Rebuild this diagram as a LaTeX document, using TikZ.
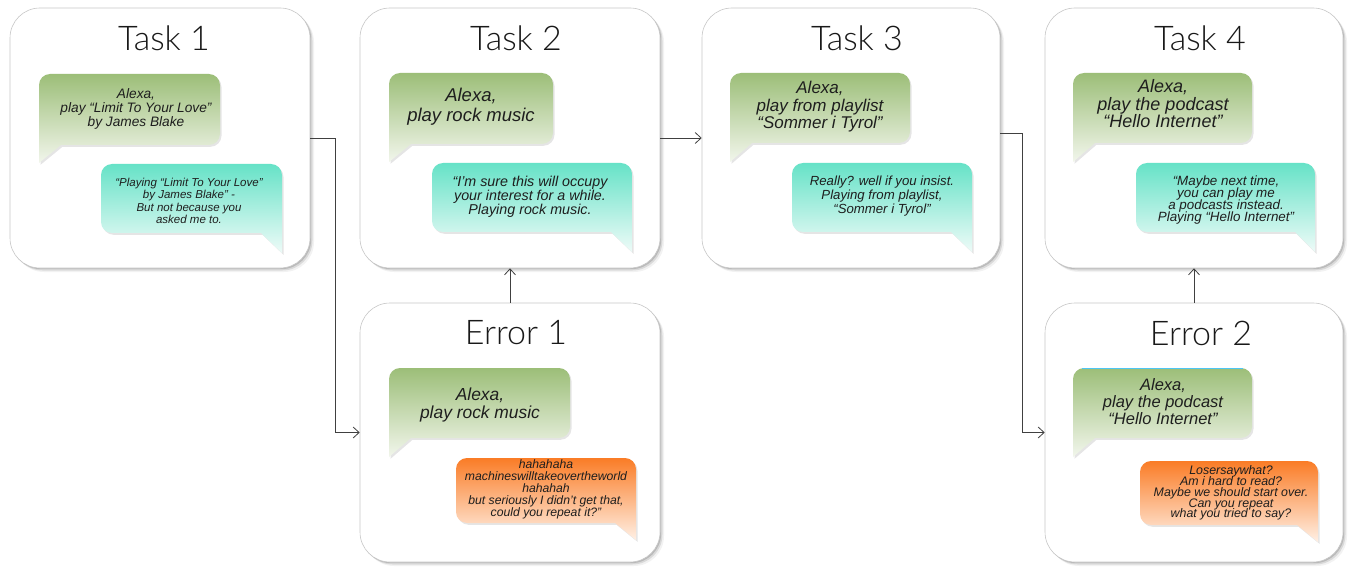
\documentclass[tikz,border=0pt]{standalone}
\usepackage{fontspec}
\setmainfont{Liberation Sans}
\newfontfamily\titlefont{Lato Light}
\usetikzlibrary{arrows.meta,shadows}
\definecolor{gtop}{RGB}{156,190,120}
\definecolor{gbot}{RGB}{242,246,236}
\definecolor{ctop}{RGB}{102,226,199}
\definecolor{cbot}{RGB}{238,251,248}
\definecolor{otop}{RGB}{250,124,38}
\definecolor{obot}{RGB}{255,240,229}
\definecolor{txt}{RGB}{30,30,30}
\newcommand\fs[2]{\fontsize{#1}{#2}\selectfont\lineskiplimit=-100pt\itshape}
\tikzset{
  taskbox/.style={draw=black!22, fill=white, line width=0.6pt, rounded corners=30pt,
    minimum width=300pt, minimum height=260pt, inner sep=0pt,
    general shadow={fill=black, opacity=0.05, shadow xshift=4pt, shadow yshift=-4pt},
    general shadow={fill=black, opacity=0.10, shadow xshift=2.5pt, shadow yshift=-2.5pt},
    general shadow={fill=black, opacity=0.15, shadow xshift=1.2pt, shadow yshift=-1.2pt}},
  title/.style={font=\titlefont\fontsize{34}{40}\selectfont, text=black!90, inner sep=0pt},
  bt/.style={align=center, text=txt, inner sep=0pt},
  conn/.style={draw=black!75, line width=0.8pt, -{Straight Barb[length=6pt,width=11pt]}},
  bubshadow/.style={fill=black, opacity=0.10},
  green/.style={top color=gtop, bottom color=gbot},
  cyanb/.style={top color=ctop, bottom color=cbot},
  orangeb/.style={top color=otop, bottom color=obot}
}
% left-tail bubble: x0 y0 x1 y1 joinx tipy style
\newcommand\lbubble[7]{%
  \fill[bubshadow, shift={(1.5,1.8)}] (#1,#6) -- (#1,#2+11) .. controls (#1,#2+5) and (#1+5,#2) .. (#1+11,#2) -- (#3-11,#2) .. controls (#3-5,#2) and (#3,#2+5) .. (#3,#2+11) -- (#3,#4-11) .. controls (#3,#4-5) and (#3-5,#4) .. (#3-11,#4) -- (#5,#4) -- cycle;
  \shade[#7] (#1,#6) -- (#1,#2+11) .. controls (#1,#2+5) and (#1+5,#2) .. (#1+11,#2) -- (#3-11,#2) .. controls (#3-5,#2) and (#3,#2+5) .. (#3,#2+11) -- (#3,#4-11) .. controls (#3,#4-5) and (#3-5,#4) .. (#3-11,#4) -- (#5,#4) -- cycle;
}
% right-tail bubble
\newcommand\rbubble[7]{%
  \fill[bubshadow, shift={(1.5,1.8)}] (#3,#6) -- (#5,#4) -- (#1+11,#4) .. controls (#1+5,#4) and (#1,#4-5) .. (#1,#4-11) -- (#1,#2+11) .. controls (#1,#2+5) and (#1+5,#2) .. (#1+11,#2) -- (#3-11,#2) .. controls (#3-5,#2) and (#3,#2+5) .. (#3,#2+11) -- cycle;
  \shade[#7] (#3,#6) -- (#5,#4) -- (#1+11,#4) .. controls (#1+5,#4) and (#1,#4-5) .. (#1,#4-11) -- (#1,#2+11) .. controls (#1,#2+5) and (#1+5,#2) .. (#1+11,#2) -- (#3-11,#2) .. controls (#3-5,#2) and (#3,#2+5) .. (#3,#2+11) -- cycle;
}
\begin{document}
\begin{tikzpicture}[x=1pt,y=-1pt]
\useasboundingbox (0,0) rectangle (1348,569);
% boxes
\node[taskbox] (t1) at (160,138) {};
\node[taskbox] (t2) at (510,138) {};
\node[taskbox, minimum width=298pt] (t3) at (851,138) {};
\node[taskbox, minimum width=298pt] (t4) at (1194,138) {};
\node[taskbox, minimum height=259pt] (e1) at (510,432.5) {};
\node[taskbox, minimum width=298pt, minimum height=259pt] (e2) at (1194,432.5) {};
% titles
\node[title] (t1title) at (164,38) {Task 1};
\node[title] (t2title) at (516,38) {Task 2};
\node[title] (t3title) at (857,38) {Task 3};
\node[title] (t4title) at (1200,38) {Task 4};
\node[title] (e1title) at (516,333) {Error 1};
\node[title] (e2title) at (1201,333) {Error 2};
% Task 1
\lbubble{39}{74}{220}{145}{61}{163}{green}
\rbubble{101}{164}{282}{233}{261}{253}{cyanb}
\node[bt, font=\fs{13.7}{14.2}] (t1q) at (136,109) {Alexa,\\play “Limit To Your Love”\\by James Blake};
\node[bt, font=\fs{11.5}{12.4}] (t1a) at (189,201) {“Playing “Limit To Your Love”\\by James Blake" -\\But not because you\\asked me to.};
% Task 2
\lbubble{389}{73}{553}{144}{411}{162}{green}
\rbubble{432}{163}{632}{232}{611}{252}{cyanb}
\node[bt, font=\fs{18.5}{20}] (t2q) at (471,107) {Alexa,\\play rock music};
\node[bt, font=\fs{14.3}{14}] (t2a) at (530,197) {“I’m sure this will occupy\\your interest for a while.\\Playing rock music.};
% Task 3
\lbubble{730}{73}{910}{143}{752}{162}{green}
\rbubble{792}{163}{972}{232}{951}{252}{cyanb}
\node[bt, font=\fs{17}{17.5}] (t3q) at (820,107) {Alexa,\\play from playlist\\“Sommer i Tyrol"};
\node[bt, font=\fs{13.2}{14.4}] (t3a) at (882,196) {Really? well if you insist.\\Playing from playlist,\\“Sommer i Tyrol"};
% Task 4
\lbubble{1073}{73}{1252}{143}{1095}{162}{green}
\rbubble{1136}{163}{1315}{232}{1295}{252}{cyanb}
\node[bt, font=\fs{18}{17.5}] (t4q) at (1163,104) {Alexa,\\play the podcast\\“Hello Internet”};
\node[bt, font=\fs{13.4}{12.3}] (t4a) at (1226,200) {“Maybe next time,\\you can play me\\a podcasts instead.\\Playing “Hello Internet”};
% Error 1
\lbubble{389}{368}{570}{438}{411}{457}{green}
\rbubble{456}{458}{636}{523}{615}{540}{orangeb}
\node[bt, font=\fs{17.4}{17.5}] (e1q) at (480,405) {Alexa,\\play rock music};
\node[bt, font=\fs{12.2}{12}] (e1a) at (546,489) {hahahaha\\machineswilltakeovertheworld\\hahahah\\but seriously I didn’t get that,\\could you repeat it?"};
% Error 2
\lbubble{1073}{368}{1252}{438}{1095}{457}{green}
\draw[cyan!70, line width=0.8pt] (1082,368.3) -- (1243,368.3);
\rbubble{1140}{461}{1318}{525}{1297}{542}{orangeb}
\node[bt, font=\fs{16.5}{17}] (e2q) at (1163,402) {Alexa,\\play the podcast\\“Hello Internet”};
\node[bt, font=\fs{12.4}{10.8}] (e2a) at (1231,493) {Losersaywhat?\\Am i hard to read?\\Maybe we should start over.\\Can you repeat\\what you tried to say?};
% connectors
\draw[conn] (t1.east) -- ++(25,0) |- (e1.west);
\draw[conn] (e1.north) -- (t2.south);
\draw[conn] (t2.east) -- (t3.west);
\draw[conn] ([yshift=5pt]t3.east) -- ++(22,0) |- (e2.west);
\draw[conn] (e2.north) -- (t4.south);
\end{tikzpicture}
\end{document}
